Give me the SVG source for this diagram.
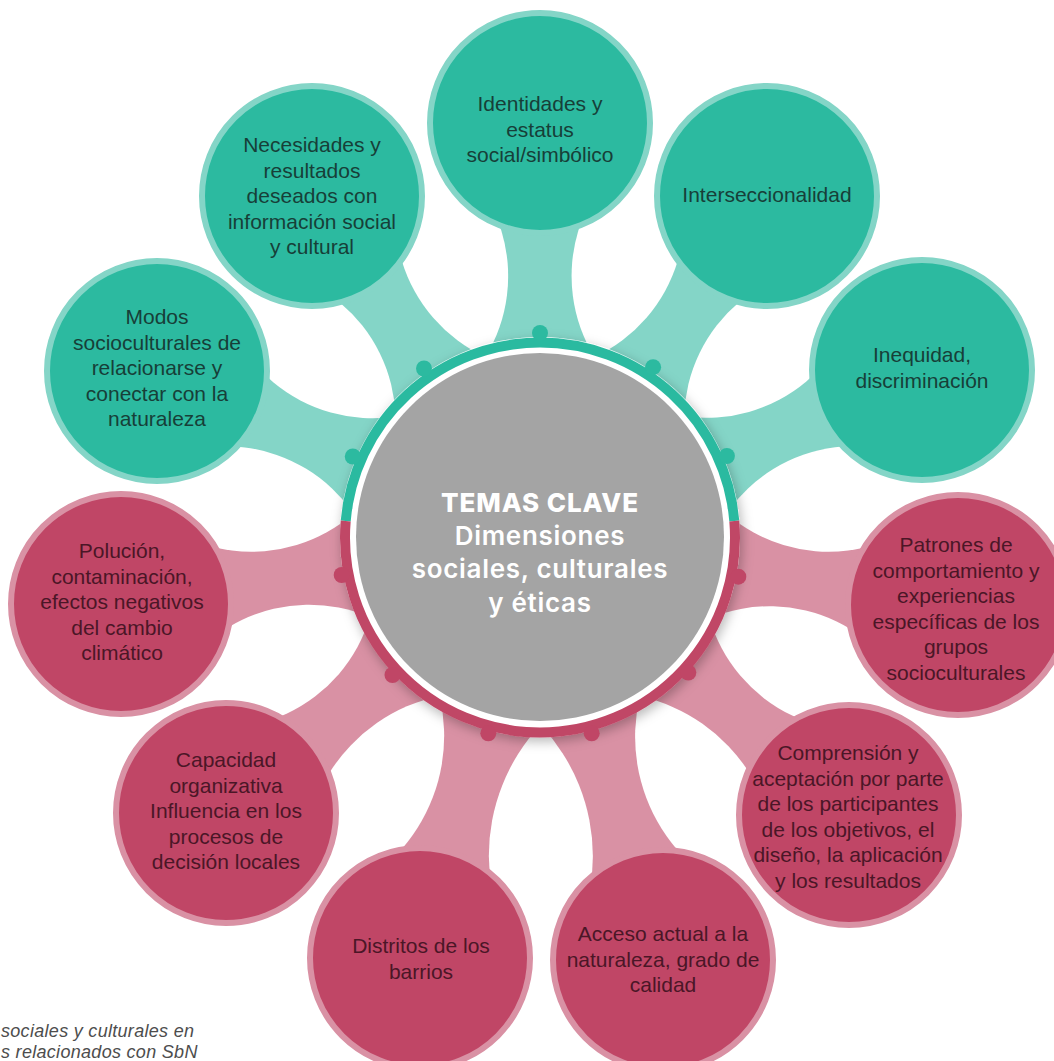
<svg xmlns="http://www.w3.org/2000/svg" width="1054" height="1061" viewBox="0 0 1054 1061">
<defs>
<style>
.tl{fill:#84D5C7}
.pl{fill:#D991A4}
.hole{fill:#FFFFFF}
.nt circle{fill:#2CBAA0;stroke:#84D5C7;stroke-width:6}
.np circle{fill:#C04666;stroke:#D991A4;stroke-width:6}
.n{font-family:"Liberation Sans",Arial,sans-serif;font-size:21px;text-anchor:middle}
.nt text{fill:#173F38}
.np text{fill:#4B1627}
.dt{fill:#2CBAA0}
.dp{fill:#C04666}
.ct{font-family:Inter,"Open Sans","Liberation Sans",sans-serif;fill:#FFFFFF;text-anchor:middle;font-size:26px;font-weight:600;letter-spacing:0.7px}
.cap{font-family:"Liberation Sans",Arial,sans-serif;font-style:italic;font-size:18px;fill:#4D4D4D;letter-spacing:0.3px}
</style>
<filter id="sh" x="-20%" y="-20%" width="140%" height="140%">
<feDropShadow dx="2" dy="4" stdDeviation="6" flood-color="#000000" flood-opacity="0.28"/>
</filter>
</defs>
<rect width="1054" height="1061" fill="#FFFFFF"/>
<g id="connectors">
<polygon class="tl" points="540,537 143.1,487 157,371 312,196 540,123 767,196 922,370 936.8,486.9"/>
<polygon class="pl" points="540,537 936.8,486.9 958,605 849,815 663,960 420,958 226,813 121,604 143.1,487"/>
<path class="hole" d="M594.4 357 A155.4 155.4 0 0 1 661.5 135 A155.4 155.4 0 0 1 594.4 357 Z"/>
<path class="hole" d="M684.1 416.2 A155.4 155.4 0 0 1 861.8 267.1 A155.4 155.4 0 0 1 684.1 416.2 Z"/>
<path class="hole" d="M726.5 513.5 A155.4 155.4 0 0 1 956.7 484.4 A155.4 155.4 0 0 1 726.5 513.5 Z"/>
<path class="hole" d="M709.5 618.3 A155.4 155.4 0 0 1 918.8 718.5 A155.4 155.4 0 0 1 709.5 618.3 Z"/>
<path class="hole" d="M639.9 696.3 A172.7 172.7 0 0 1 771.2 905.5 A172.7 172.7 0 0 1 639.9 696.3 Z"/>
<path class="hole" d="M540.5 725 A191 191 0 0 1 541.2 987 A191 191 0 0 1 540.5 725 Z"/>
<path class="hole" d="M439.5 695.9 A172.7 172.7 0 0 1 307.5 904.7 A172.7 172.7 0 0 1 439.5 695.9 Z"/>
<path class="hole" d="M369.9 617.1 A155.4 155.4 0 0 1 160 715.8 A155.4 155.4 0 0 1 369.9 617.1 Z"/>
<path class="hole" d="M353.5 513.5 A155.4 155.4 0 0 1 123.3 484.5 A155.4 155.4 0 0 1 353.5 513.5 Z"/>
<path class="hole" d="M395.6 416.6 A155.4 155.4 0 0 1 217.4 268.1 A155.4 155.4 0 0 1 395.6 416.6 Z"/>
<path class="hole" d="M485.4 357.1 A155.4 155.4 0 0 1 418 135.1 A155.4 155.4 0 0 1 485.4 357.1 Z"/>
</g>
<g id="node-identidades" class="nt">
<circle cx="540" cy="123" r="110"/>
<text class="n" x="540" y="111">Identidades y</text>
<text class="n" x="540" y="136.5">estatus</text>
<text class="n" x="540" y="162">social/simbólico</text>
</g>
<g id="node-interseccionalidad" class="nt">
<circle cx="767" cy="196" r="110"/>
<text class="n" x="767" y="202">Interseccionalidad</text>
</g>
<g id="node-inequidad" class="nt">
<circle cx="922" cy="370" r="110"/>
<text class="n" x="922" y="362">Inequidad,</text>
<text class="n" x="922" y="387.5">discriminación</text>
</g>
<g id="node-patrones" class="np">
<circle cx="958" cy="605" r="110"/>
<text class="n" x="956" y="552">Patrones de</text>
<text class="n" x="956" y="577.5">comportamiento y</text>
<text class="n" x="956" y="603">experiencias</text>
<text class="n" x="956" y="628.5">específicas de los</text>
<text class="n" x="956" y="654">grupos</text>
<text class="n" x="956" y="679.5">socioculturales</text>
</g>
<g id="node-comprension" class="np">
<circle cx="849" cy="815" r="110"/>
<text class="n" x="848" y="760">Comprensión y</text>
<text class="n" x="848" y="785.5">aceptación por parte</text>
<text class="n" x="848" y="811">de los participantes</text>
<text class="n" x="848" y="836.5">de los objetivos, el</text>
<text class="n" x="848" y="862">diseño, la aplicación</text>
<text class="n" x="848" y="887.5">y los resultados</text>
</g>
<g id="node-acceso" class="np">
<circle cx="663" cy="960" r="110"/>
<text class="n" x="663" y="941">Acceso actual a la</text>
<text class="n" x="663" y="966.5">naturaleza, grado de</text>
<text class="n" x="663" y="992">calidad</text>
</g>
<g id="node-distritos" class="np">
<circle cx="420" cy="958" r="110"/>
<text class="n" x="421" y="953">Distritos de los</text>
<text class="n" x="421" y="978.5">barrios</text>
</g>
<g id="node-capacidad" class="np">
<circle cx="226" cy="813" r="110"/>
<text class="n" x="226" y="767">Capacidad</text>
<text class="n" x="226" y="792.5">organizativa</text>
<text class="n" x="226" y="818">Influencia en los</text>
<text class="n" x="226" y="843.5">procesos de</text>
<text class="n" x="226" y="869">decisión locales</text>
</g>
<g id="node-polucion" class="np">
<circle cx="121" cy="604" r="110"/>
<text class="n" x="122" y="558">Polución,</text>
<text class="n" x="122" y="583.5">contaminación,</text>
<text class="n" x="122" y="609">efectos negativos</text>
<text class="n" x="122" y="634.5">del cambio</text>
<text class="n" x="122" y="660">climático</text>
</g>
<g id="node-modos" class="nt">
<circle cx="157" cy="371" r="110"/>
<text class="n" x="157" y="324">Modos</text>
<text class="n" x="157" y="349.5">socioculturales de</text>
<text class="n" x="157" y="375">relacionarse y</text>
<text class="n" x="157" y="400.5">conectar con la</text>
<text class="n" x="157" y="426">naturaleza</text>
</g>
<g id="node-necesidades" class="nt">
<circle cx="312" cy="196" r="110"/>
<text class="n" x="312" y="152">Necesidades y</text>
<text class="n" x="312" y="177.5">resultados</text>
<text class="n" x="312" y="203">deseados con</text>
<text class="n" x="312" y="228.5">información social</text>
<text class="n" x="312" y="254">y cultural</text>
</g>
<g id="node-center">
<g filter="url(#sh)">
<circle cx="540" cy="537" r="200" fill="#FFFFFF"/>
<path d="M345.7 521 A195 195 0 0 1 734.3 521" fill="none" stroke="#2CBAA0" stroke-width="10"/>
<path d="M734.3 521 A195 195 0 1 1 345.7 521" fill="none" stroke="#C04666" stroke-width="10"/>
</g>
<circle cx="540" cy="537" r="184" fill="#A4A4A4"/>
<text class="ct" x="540" y="511.7" style="font-weight:800;letter-spacing:0.9px">TEMAS CLAVE</text>
<text class="ct" x="540" y="545">Dimensiones</text>
<text class="ct" x="540" y="578.3">sociales, culturales</text>
<text class="ct" x="540" y="611.7">y éticas</text>
</g>
<g id="anchors">
<circle class="dt" cx="540" cy="333" r="8"/>
<circle class="dt" cx="653.1" cy="367.2" r="8"/>
<circle class="dt" cx="726.9" cy="456" r="8"/>
<circle class="dt" cx="352.8" cy="456.5" r="8"/>
<circle class="dt" cx="424" cy="368.5" r="8"/>
<circle class="dp" cx="738.3" cy="576.7" r="8"/>
<circle class="dp" cx="688.3" cy="672.5" r="8"/>
<circle class="dp" cx="591.7" cy="733.3" r="8"/>
<circle class="dp" cx="488.3" cy="733.3" r="8"/>
<circle class="dp" cx="392.5" cy="675" r="8"/>
<circle class="dp" cx="341.7" cy="575" r="8"/>
</g>
<g id="caption">
<text class="cap" x="1" y="1037">sociales y culturales en</text>
<text class="cap" x="1" y="1058">s relacionados con SbN</text>
</g>
</svg>
